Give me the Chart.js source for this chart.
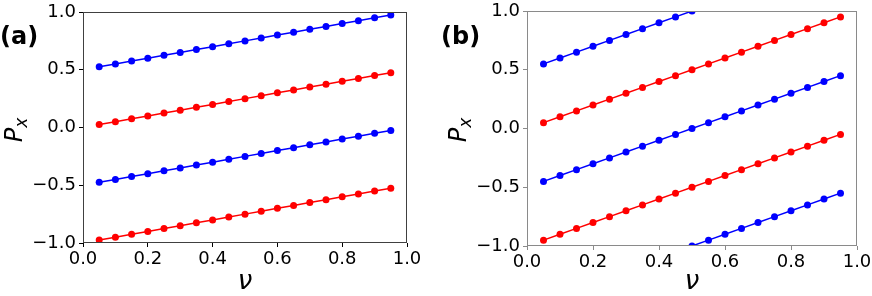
<!DOCTYPE html>
<html><head><meta charset="utf-8">
<script src="https://cdn.jsdelivr.net/npm/chart.js@4/dist/chart.umd.min.js"></script>
<style>
html,body{margin:0;padding:0;background:#fff;}
#wrap{position:relative;width:872px;height:296px;overflow:hidden;}
.c{position:absolute;top:0;width:436px;height:296px;}
</style></head><body>
<div id="wrap">
<div class="c" style="left:0"><canvas id="ca" width="436" height="296"></canvas></div>
<div class="c" style="left:436px"><canvas id="cb" width="436" height="296"></canvas></div>
</div>
<script>
// x values (nu)
const nu = [0.05,0.10,0.15,0.20,0.25,0.30,0.35,0.40,0.45,0.50,0.55,0.60,0.65,0.70,0.75,0.80,0.85,0.90,0.95];

// panel (a) series
const aBlue1 = [0.525,0.55,0.575,0.6,0.625,0.65,0.675,0.7,0.725,0.75,0.775,0.8,0.825,0.85,0.875,0.9,0.925,0.95,0.975];
const aRed1  = [0.025,0.05,0.075,0.1,0.125,0.15,0.175,0.2,0.225,0.25,0.275,0.3,0.325,0.35,0.375,0.4,0.425,0.45,0.475];
const aBlue2 = [-0.475,-0.45,-0.425,-0.4,-0.375,-0.35,-0.325,-0.3,-0.275,-0.25,-0.225,-0.2,-0.175,-0.15,-0.125,-0.1,-0.075,-0.05,-0.025];
const aRed2  = [-0.975,-0.95,-0.925,-0.9,-0.875,-0.85,-0.825,-0.8,-0.775,-0.75,-0.725,-0.7,-0.675,-0.65,-0.625,-0.6,-0.575,-0.55,-0.525];

// panel (b) series (null = outside the visible range)
const bBlue1 = [0.55,0.6,0.65,0.7,0.75,0.8,0.85,0.9,0.95,1.0,null,null,null,null,null,null,null,null,null];
const bRed1  = [0.05,0.1,0.15,0.2,0.25,0.3,0.35,0.4,0.45,0.5,0.55,0.6,0.65,0.7,0.75,0.8,0.85,0.9,0.95];
const bBlue2 = [-0.45,-0.4,-0.35,-0.3,-0.25,-0.2,-0.15,-0.1,-0.05,0.0,0.05,0.1,0.15,0.2,0.25,0.3,0.35,0.4,0.45];
const bRed2  = [-0.95,-0.9,-0.85,-0.8,-0.75,-0.7,-0.65,-0.6,-0.55,-0.5,-0.45,-0.4,-0.35,-0.3,-0.25,-0.2,-0.15,-0.1,-0.05];
const bBlue3 = [null,null,null,null,null,null,null,null,null,-1.0,-0.95,-0.9,-0.85,-0.8,-0.75,-0.7,-0.65,-0.6,-0.55];

// ticks
const xTickValues = [0,0.2,0.4,0.6,0.8,1.0];
const xTickLabels = ['0.0','0.2','0.4','0.6','0.8','1.0'];
const yTickValues = [-1,-0.5,0,0.5,1];
const yTickLabels = ['\u22121.0','\u22120.5','0.0','0.5','1.0'];

const BLUE = '#0000ff', RED = '#ff0000';

function ds(vals, color){
  return {
    data: vals.map((v,i)=>({x:nu[i], y:v})),
    borderColor: color, backgroundColor: color,
    borderWidth: 1.5, pointRadius: 3.5, pointHoverRadius: 3.5,
    pointBorderWidth: 0, spanGaps: false, clip: 0, tension: 0
  };
}

function make(id, series, g){
  const W = 436, H = 296;
  const deco = {
    id: 'deco',
    afterDraw(chart){
      const ctx = chart.ctx, a = chart.chartArea;
      ctx.save();
      ctx.strokeStyle = g.frame; ctx.lineWidth = 1;
      ctx.strokeRect(Math.round(a.left)+0.5, Math.round(a.top)+0.5, Math.round(a.right-a.left)-1, Math.round(a.bottom-a.top)-1);
      // panel label
      ctx.fillStyle = '#000';
      ctx.font = 'bold 24px "DejaVu Sans"';
      ctx.textAlign = 'left'; ctx.textBaseline = 'alphabetic';
      ctx.fillText(g.label, g.labelX, 44);
      // x title
      ctx.font = 'italic 26px "DejaVu Sans"';
      ctx.textAlign = 'center';
      ctx.fillText('\u03bd', (a.left+a.right)/2, 289);
      // y title P_x
      ctx.translate(g.yTitleX, 130);
      ctx.rotate(-Math.PI/2);
      ctx.font = 'italic 24px "DejaVu Sans"';
      const wP = ctx.measureText('P').width;
      ctx.font = 'italic 17px "DejaVu Sans"';
      const wx = ctx.measureText('x').width;
      const start = -(wP+wx)/2;
      ctx.textAlign = 'left';
      ctx.font = 'italic 24px "DejaVu Sans"';
      ctx.fillText('P', start, 0);
      ctx.font = 'italic 17px "DejaVu Sans"';
      ctx.fillText('x', start+wP, 5);
      ctx.restore();
    }
  };
  return new Chart(document.getElementById(id), {
    type: 'line',
    data: { datasets: series },
    options: {
      responsive: false, animation: false, devicePixelRatio: 1,
      layout: { padding: { left: 0, top: g.top, right: W - g.right, bottom: 0 } },
      plugins: { legend: {display:false}, tooltip: {enabled:false}, title:{display:false} },
      scales: {
        x: {
          type: 'linear', min: 0, max: 1,
          afterBuildTicks: s => { s.ticks = xTickValues.map(v=>({value:v})); },
          afterFit: s => { s.height = H - g.bottom; s.paddingLeft = 0; s.paddingRight = 0; },
          ticks: { autoSkip:false, maxRotation:0, padding: 2, color:'#000',
                   font:{family:'DejaVu Sans', size:18},
                   callback: (v,i) => xTickLabels[i] },
          grid: { drawOnChartArea:false, drawTicks:true, tickLength:4, tickColor:g.tick },
          border: { display:false }
        },
        y: {
          type: 'linear', min: -1, max: 1,
          afterBuildTicks: s => { s.ticks = yTickValues.map(v=>({value:v})); },
          afterFit: s => { s.width = g.left; s.paddingTop = 0; s.paddingBottom = 0; },
          ticks: { autoSkip:false, padding: 3, color:'#000',
                   font:{family:'DejaVu Sans', size:18},
                   callback: (v,i) => yTickLabels[i] },
          grid: { drawOnChartArea:false, drawTicks:true, tickLength:4, tickColor:g.tick },
          border: { display:false }
        }
      }
    },
    plugins: [deco]
  });
}

make('ca', [ds(aBlue1,BLUE), ds(aRed1,RED), ds(aBlue2,BLUE), ds(aRed2,RED)],
  {left:83, right:407, top:12, bottom:243, frame:'#404040', tick:'#000', label:'(a)', labelX:0, yTitleX:22});
make('cb', [ds(bBlue1,BLUE), ds(bRed1,RED), ds(bBlue2,BLUE), ds(bRed2,RED), ds(bBlue3,BLUE)],
  {left:91, right:421, top:11, bottom:246, frame:'#8a8a8a', tick:'#8a8a8a', label:'(b)', labelX:5, yTitleX:30});
</script>
</body></html>
